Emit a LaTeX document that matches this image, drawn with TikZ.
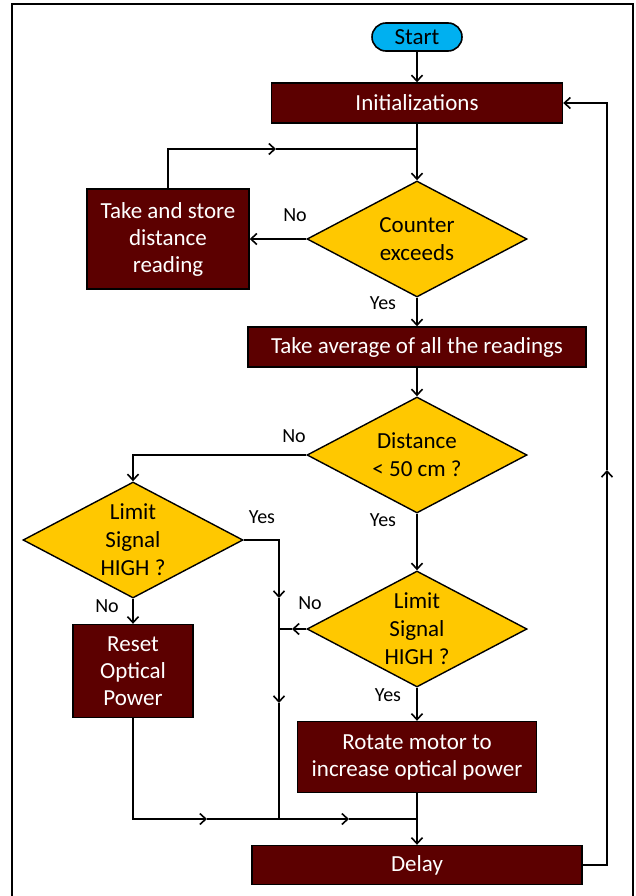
\documentclass[tikz,border=0pt]{standalone}
\usepackage{fontspec}
\setmainfont{Carlito}
\usetikzlibrary{arrows.meta, shapes.geometric}

\definecolor{boxred}{RGB}{92,0,0}
\definecolor{decyellow}{RGB}{255,200,0}
\definecolor{termblue}{RGB}{0,176,240}

\begin{document}
\begin{tikzpicture}[x=1pt, y=-1pt,
        proc/.style={rectangle, draw=black, line width=1.4pt, fill=boxred,
                     text=white, align=center, inner sep=0pt,
                     font=\fontsize{23}{27}\selectfont},
        dec/.style={diamond, draw=black, line width=1.4pt, fill=decyellow,
                    align=center, inner sep=-16pt, minimum width=220pt,
                    minimum height=116pt, font=\fontsize{23}{28}\selectfont},
        term/.style={rectangle, rounded corners=14pt, draw=black, line width=1.6pt,
                     fill=termblue, minimum width=90pt, minimum height=28pt,
                     inner sep=0pt, font=\fontsize{23}{27}\selectfont},
        lbl/.style={font=\fontsize{20}{22}\selectfont},
        conn/.style={line width=1.6pt},
        arr/.style={conn, -{Straight Barb[length=6pt, width=11pt]}}]
      \useasboundingbox (0,0) rectangle (636,896);
      \draw[line width=1.5pt] (12,896) -- (12,4) -- (633,4) -- (633,896);

      % main column
      \node[term] (start) at (417,37) {Start};
      \node[proc, minimum width=291pt, minimum height=40pt] (init) at (417,103) {Initializations};
      \node[dec] (cnt) at (417,239) {Counter\\exceeds};
      \node[proc, minimum width=162pt, minimum height=100pt] (store) at (168,239)
            {Take and store\\distance\\reading};
      \node[proc, minimum width=338pt, minimum height=40pt] (avg) at (417,347)
            {Take average of all the readings};
      \node[dec] (dist) at (417,455) {Distance\\< 50 cm ?};
      \node[dec] (lim1) at (133,540) {Limit\\Signal\\HIGH ?};
      \node[dec] (lim2) at (417,629) {Limit\\Signal\\HIGH ?};
      \node[proc, minimum width=120pt, minimum height=93pt] (reset) at (133,671)
            {Reset\\Optical\\Power};
      \node[proc, minimum width=239pt, minimum height=71pt] (rotate) at (417,757)
            {Rotate motor to\\increase optical power};
      \node[proc, minimum width=330pt, minimum height=39pt] (delay) at (417,865) {Delay};

      % junction points
      \coordinate (j1) at (417,149);
      \coordinate (a1) at (276,149);
      \coordinate (v1) at (279,598);
      \coordinate (v2) at (279,703);
      \coordinate (v3) at (279,819);
      \coordinate (n1) at (292,629);
      \coordinate (b1) at (207,819);
      \coordinate (b2) at (349,819);
      \coordinate (m0) at (417,819);
      \coordinate (r1) at (607,470);

      % connectors
      \draw[arr] (start) -- (init);
      \draw[arr] (init) -- (cnt.north);
      \draw[arr] (store.north) |- (a1);
      \draw[conn] (a1) -- (j1);
      \draw[arr] (cnt.west) -- (store.east);
      \draw[arr] (cnt.south) -- (avg.north);
      \draw[arr] (avg.south) -- (dist.north);
      \draw[arr] (dist.west) -| (lim1.north);
      \draw[arr] (dist.south) -- (lim2.north);
      \draw[arr] (lim1.east) -| (v1);
      \draw[arr] (v1) -- (v2);
      \draw[conn] (v2) -- (v3);
      \draw[arr] (lim2.west) -- (n1);
      \draw[conn] (n1) -- (n1 -| v1);
      \draw[arr] (lim1.south) -- (reset.north);
      \draw[arr] (lim2.south) -- (rotate.north);
      \draw[arr] (reset.south) |- (b1);
      \draw[arr] (b1) -- (b2);
      \draw[conn] (b2) -- (m0);
      \draw[arr] (rotate.south) -- (delay.north);
      \draw[arr] (delay.east) -| (r1);
      \draw[arr] (r1) |- (init.east);

      % branch labels
      \node[lbl] (no1) at (295,215) {No};
      \node[lbl] (yes1) at (383,303) {Yes};
      \node[lbl] (no2) at (294,436) {No};
      \node[lbl] (yes2) at (383,520) {Yes};
      \node[lbl] (yes3) at (262,517) {Yes};
      \node[lbl] (no3) at (310,603) {No};
      \node[lbl] (no4) at (107,606) {No};
      \node[lbl] (yes4) at (388,695) {Yes};
    \end{tikzpicture}
\end{document}
